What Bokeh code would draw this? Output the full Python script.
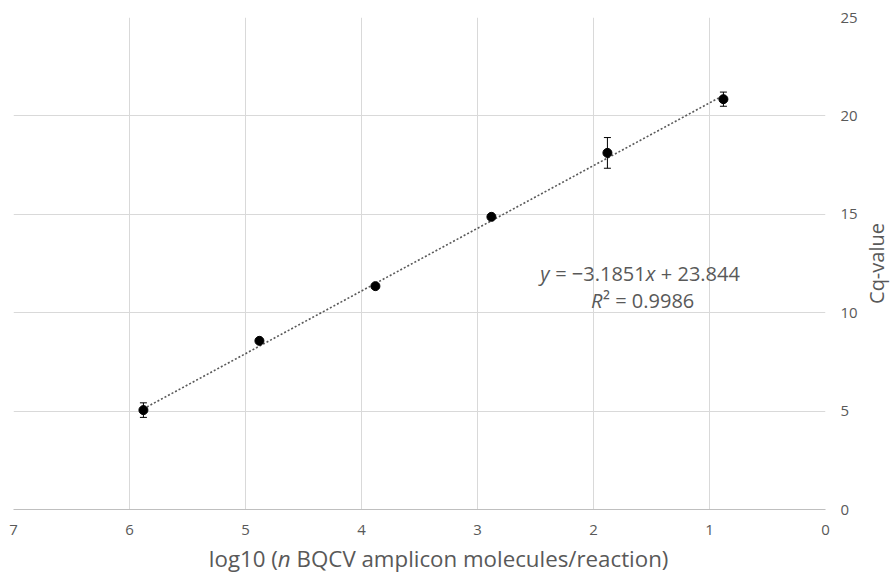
import math
from bokeh.plotting import figure
from bokeh.layouts import row, column
from bokeh.models import Range1d, Whisker, ColumnDataSource, Label, FixedTicker, TeeHead
from bokeh.embed import file_html
from bokeh.resources import INLINE

# ---- data ----
log_molecules = [5.88, 4.88, 3.88, 2.88, 1.88, 0.88]
cq_values = [5.05, 8.57, 11.35, 14.87, 18.12, 20.85]
cq_errors = [0.37, 0.06, 0.08, 0.05, 0.78, 0.36]
slope = -3.1851
intercept = 23.844
r_squared = 0.9986
x_ticks = [0, 1, 2, 3, 4, 5, 6, 7]
y_ticks = [0, 5, 10, 15, 20, 25]

TOTAL_W, TOTAL_H = 890, 579
W, H = 860, 542          # main plot
L, R, T, B = 13, 33, 17, 33
X0, X1 = 7, 0
Y0, Y1 = 0, 25
FONT = "Open Sans"
GREY = "#595959"
NB = "\u00a0"
BASE_FIX = 9             # renderer draws alphabetic baseline this much lower

p = figure(width=W, height=H, output_backend="svg", toolbar_location=None,
           x_range=Range1d(X0, X1), y_range=Range1d(Y0, Y1),
           y_axis_location="right",
           min_border_left=L, min_border_right=R, min_border_top=T, min_border_bottom=B)
p.outline_line_color = None
p.background_fill_color = "white"
p.border_fill_color = "white"

fw = W - L - R
fh = H - T - B
def px2x(px):
    return X0 + (px - L) / fw * (X1 - X0)
def py2y(py):
    return Y0 + (H - B - py) / fh * (Y1 - Y0)

p.xaxis.ticker = FixedTicker(ticks=x_ticks)
p.yaxis.ticker = FixedTicker(ticks=y_ticks)
p.xgrid.grid_line_color = "#d9d9d9"
p.ygrid.grid_line_color = "#d9d9d9"
for ax in (p.xaxis, p.yaxis):
    ax.major_tick_line_color = None
    ax.minor_tick_line_color = None
    ax.major_tick_out = 0
    ax.major_label_text_font = FONT
    ax.major_label_text_font_size = "15px"
    ax.major_label_text_color = GREY
p.xaxis.axis_line_color = "#bfbfbf"
p.yaxis.axis_line_color = None
p.xaxis.major_label_standoff = 15
p.yaxis.major_label_standoff = 15

# trendline
xs = [log_molecules[0], log_molecules[-1]]
ys = [slope * v + intercept for v in xs]
p.line(xs, ys, line_color=GREY, line_width=1.6, line_dash="2 2")

# error bars
src = ColumnDataSource(dict(
    x=log_molecules, y=cq_values,
    upper=[v + e for v, e in zip(cq_values, cq_errors)],
    lower=[v - e for v, e in zip(cq_values, cq_errors)],
))
w = Whisker(source=src, base="x", upper="upper", lower="lower", dimension="height",
            line_color="black", line_width=1,
            upper_head=TeeHead(size=7, line_color="black", line_width=1),
            lower_head=TeeHead(size=7, line_color="black", line_width=1))
w.level = "glyph"
p.add_layout(w)
p.scatter("x", "y", source=src, size=9, color="black")

def lab(fig, x, y, text, xoff=0, italic=False, size="20px", align="left",
        baseline="alphabetic", angle=0):
    fig.add_layout(Label(x=x, y=y, x_offset=xoff, text=text,
                         text_font=FONT, text_font_size=size, text_color=GREY,
                         text_font_style="italic" if italic else "normal",
                         text_align=align, text_baseline=baseline, angle=angle))

# equation
s = 20
ex, ey = px2x(541), py2y(281.5 - BASE_FIX)
lab(p, ex, ey, "y", 0, italic=True)
lab(p, ex, ey, f"{NB}={NB}\u2212{abs(slope)}", 0.49 * s)
lab(p, ex, ey, "x", (0.49 + 4.791) * s, italic=True)
lab(p, ex, ey, f"{NB}+{NB}{intercept}", (0.98 + 4.791) * s)

rx, ry = px2x(592), py2y(309 - BASE_FIX)
lab(p, rx, ry, "R", 0, italic=True)
lab(p, rx, ry, f"\u00b2{NB}={NB}{r_squared}", 0.6 * s)

# x axis title strip (below the plot)
XT_H = TOTAL_H - H
pxt = figure(width=W, height=XT_H, output_backend="svg", toolbar_location=None,
             x_range=Range1d(0, W), y_range=Range1d(XT_H, 0),
             min_border=0, x_axis_type=None, y_axis_type=None)
pxt.outline_line_color = None
pxt.xgrid.visible = False
pxt.ygrid.visible = False
ts = 22.3
tx, ty = 280, 567 - BASE_FIX - H
lab(pxt, tx, ty, f"log10{NB}(", 0, align="right", size=f"{ts}px")
lab(pxt, tx, ty, "n", 0, italic=True, size=f"{ts}px")
lab(pxt, tx, ty, f"{NB}BQCV amplicon molecules/reaction)", 0.58 * ts, size=f"{ts}px")

# y axis title strip (right of the plot)
YT_W = TOTAL_W - W
pyt = figure(width=YT_W, height=TOTAL_H, output_backend="svg", toolbar_location=None,
             x_range=Range1d(0, YT_W), y_range=Range1d(TOTAL_H, 0),
             min_border=0, x_axis_type=None, y_axis_type=None)
pyt.outline_line_color = None
pyt.xgrid.visible = False
pyt.ygrid.visible = False
lab(pyt, 875.5 - W, 263, "Cq-value", 0, size="20px", align="center", baseline="middle",
    angle=math.pi / 2)

layout = row(column(p, pxt, spacing=0), pyt, spacing=0)
open("out.html", "w").write(file_html(layout, INLINE))
